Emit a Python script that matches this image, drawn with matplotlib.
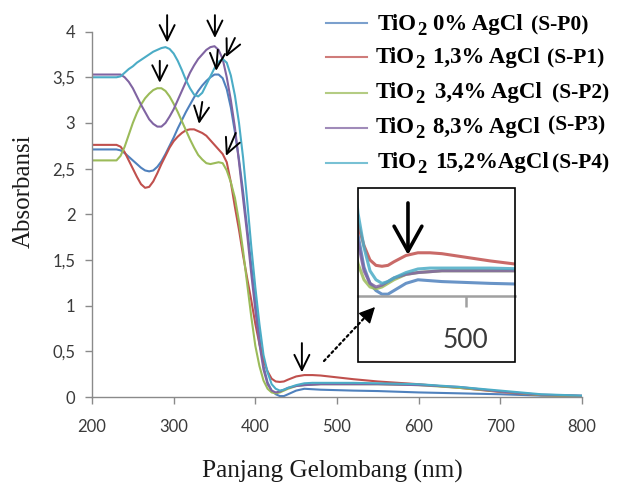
import matplotlib
matplotlib.use('Agg')
import matplotlib.pyplot as plt
from matplotlib.lines import Line2D
from matplotlib.patches import Rectangle

# ---------------- data ----------------
wavelength = [200, 225, 230, 235, 240, 245, 250, 255, 260, 265, 270, 275, 280, 285, 290,
              295, 300, 305, 310, 315, 320, 325, 330, 335, 340, 345, 350, 355, 360, 365,
              370, 375, 380, 385, 390, 395, 400, 405, 410, 415, 420, 425, 430, 435, 440,
              450, 460, 470, 480, 500, 520, 550, 600, 650, 700, 750, 800]

abs_p0 = [2.71, 2.71, 2.71, 2.70, 2.67, 2.63, 2.59, 2.55, 2.51, 2.48, 2.47, 2.48, 2.52, 2.58, 2.66,
          2.75, 2.84, 2.94, 3.03, 3.12, 3.20, 3.28, 3.35, 3.41, 3.46, 3.50, 3.53, 3.53, 3.49, 3.37,
          3.17, 2.90, 2.60, 2.25, 1.85, 1.45, 1.05, 0.66, 0.34, 0.16, 0.07, 0.03, 0.01, 0.01, 0.03,
          0.07, 0.09, 0.085, 0.08, 0.075, 0.07, 0.065, 0.05, 0.04, 0.03, 0.015, 0.01]

abs_p1 = [2.76, 2.76, 2.76, 2.74, 2.68, 2.59, 2.50, 2.41, 2.33, 2.29, 2.30, 2.36, 2.45, 2.55, 2.64,
          2.73, 2.80, 2.85, 2.89, 2.92, 2.93, 2.93, 2.91, 2.89, 2.86, 2.81, 2.76, 2.71, 2.66, 2.57,
          2.35, 2.08, 1.83, 1.55, 1.30, 1.06, 0.80, 0.58, 0.40, 0.28, 0.20, 0.17, 0.165, 0.17, 0.19,
          0.225, 0.24, 0.24, 0.235, 0.215, 0.195, 0.17, 0.14, 0.10, 0.055, 0.02, 0.01]

abs_p2 = [2.59, 2.59, 2.59, 2.64, 2.74, 2.87, 3.00, 3.11, 3.20, 3.27, 3.32, 3.36, 3.38, 3.38, 3.35,
          3.29, 3.21, 3.12, 3.02, 2.92, 2.82, 2.73, 2.65, 2.60, 2.56, 2.55, 2.56, 2.57, 2.56, 2.48,
          2.35, 2.18, 1.92, 1.60, 1.24, 0.88, 0.56, 0.34, 0.18, 0.09, 0.05, 0.04, 0.05, 0.07, 0.09,
          0.12, 0.13, 0.135, 0.14, 0.14, 0.14, 0.14, 0.13, 0.10, 0.06, 0.02, 0.01]

abs_p3 = [3.53, 3.53, 3.53, 3.53, 3.50, 3.45, 3.38, 3.29, 3.20, 3.12, 3.04, 2.99, 2.96, 2.96, 3.00,
          3.07, 3.15, 3.25, 3.35, 3.45, 3.55, 3.63, 3.70, 3.75, 3.80, 3.83, 3.84, 3.80, 3.70, 3.50,
          3.25, 2.95, 2.57, 2.17, 1.78, 1.35, 0.95, 0.58, 0.30, 0.14, 0.07, 0.05, 0.06, 0.08, 0.10,
          0.12, 0.13, 0.135, 0.14, 0.14, 0.14, 0.14, 0.13, 0.11, 0.06, 0.025, 0.015]

abs_p4 = [3.50, 3.50, 3.50, 3.51, 3.55, 3.59, 3.62, 3.66, 3.69, 3.72, 3.75, 3.78, 3.80, 3.82, 3.83,
          3.81, 3.76, 3.68, 3.58, 3.47, 3.38, 3.31, 3.29, 3.33, 3.42, 3.51, 3.60, 3.67, 3.70, 3.66,
          3.52, 3.30, 3.00, 2.62, 2.15, 1.65, 1.20, 0.80, 0.46, 0.27, 0.14, 0.09, 0.07, 0.08, 0.10,
          0.13, 0.15, 0.155, 0.155, 0.155, 0.155, 0.15, 0.14, 0.11, 0.07, 0.03, 0.015]

series_values = [abs_p0, abs_p1, abs_p2, abs_p3, abs_p4]
series_colors = ['#4F81BD', '#C0504D', '#9BBB59', '#8064A2', '#4BACC6']
legend_amounts = ['0% AgCl', '1,3% AgCl', '3,4% AgCl', '8,3% AgCl', '15,2%AgCl']
legend_codes = ['(S-P0)', '(S-P1)', '(S-P2)', '(S-P3)', '(S-P4)']

xticks = [200, 300, 400, 500, 600, 700, 800]
xtick_labels = ['200', '300', '400', '500', '600', '700', '800']
yticks = [0, 0.5, 1, 1.5, 2, 2.5, 3, 3.5, 4]
ytick_labels = ['0', '0,5', '1', '1,5', '2', '2,5', '3', '3,5', '4']

# peak markers (tail, tip) in data coordinates
peak_arrows = [((292, 4.18), (292, 3.88)),
               ((350.5, 4.18), (350.5, 3.93)),
               ((375, 3.93), (364, 3.72)),
               ((354, 3.80), (352, 3.57)),
               ((283, 3.68), (283, 3.44)),
               ((335, 3.23), (331, 2.99)),
               ((376, 2.89), (364, 2.64)),
               ((457, 0.59), (457, 0.27))]

# ---------------- figure ----------------
W, H = 618, 484
plt.rcParams['font.family'] = ['Lato', 'DejaVu Sans']
fig = plt.figure(figsize=(W / 100, H / 100), dpi=100)

def fx(px):
    return px / W

def fy(py):
    return 1 - py / H

ax = fig.add_axes([fx(92), fy(397), fx(582) - fx(92), fy(31.6) - fy(397)])
for vals, col in zip(series_values, series_colors):
    ax.plot(wavelength, vals, color=col, lw=1.5, solid_joinstyle='round')

ax.set_xlim(200, 800)
ax.set_ylim(0, 4)
ax.set_xticks(xticks)
ax.set_xticklabels(xtick_labels)
ax.set_yticks(yticks)
ax.set_yticklabels(ytick_labels)
for s in ['top', 'right']:
    ax.spines[s].set_visible(False)
for s in ['left', 'bottom']:
    ax.spines[s].set_color('#8a8a8a')
    ax.spines[s].set_linewidth(1.0)
ax.tick_params(axis='both', direction='out', length=5, width=1, color='#8a8a8a',
               labelcolor='#3a3a3a', labelsize=12)
ax.tick_params(axis='x', pad=10.5)
ax.tick_params(axis='y', pad=7)

for tail, tip in peak_arrows:
    ax.annotate('', xy=tip, xytext=tail, annotation_clip=False,
                arrowprops=dict(arrowstyle='->,head_length=0.55,head_width=0.27',
                                mutation_scale=20, lw=1.4, color='black',
                                shrinkA=0, shrinkB=0))

# axis titles
fig.text(fx(24), fy(191), 'Absorbansi', rotation=90, ha='center', va='center',
         family='Liberation Serif', fontsize=18, color='#1a1a1a')
fig.text(fx(332), fy(478), 'Panjang Gelombang (nm)', ha='center', va='baseline',
         family='Liberation Serif', fontsize=18.2, color='#1a1a1a')

# ---------------- legend (manual) ----------------
row_line_y = [23, 57, 93, 128, 163]
row_base_y = [30, 63, 98, 133, 168]
row_tio_x = [378, 376, 376, 376, 378]
row_amount_x = [433, 433, 435, 433, 435]
row_code_x = [531, 547, 552, 548, 552]
row_code_raise = [0, 0, 0, 3, 0]
serif_bold = dict(family='Liberation Serif', weight='bold', color='black')
for i in range(5):
    fig.add_artist(Line2D([fx(326), fx(367)], [fy(row_line_y[i])] * 2,
                          color=series_colors[i], lw=1.5, alpha=0.75))
    t1 = fig.text(fx(row_tio_x[i]), fy(row_base_y[i]), 'TiO', fontsize=16.5,
                  va='baseline', ha='left', **serif_bold)
    ax.annotate('2', xy=(1, 0), xycoords=t1, xytext=(0.5, -2.8),
                textcoords='offset points', ha='left', va='bottom',
                fontsize=13.5, annotation_clip=False, **serif_bold)
    fig.text(fx(row_amount_x[i]), fy(row_base_y[i]), legend_amounts[i], fontsize=16.5,
             va='baseline', ha='left', **serif_bold)
    fig.text(fx(row_code_x[i]), fy(row_base_y[i] - row_code_raise[i]), legend_codes[i],
             fontsize=15.5, va='baseline', ha='left', **serif_bold)

# ---------------- inset (zoom of the 450 nm region) ----------------
ins = fig.add_axes([fx(358), fy(362), fx(515) - fx(358), fy(188) - fy(362)])
for vals, col in zip(series_values, series_colors):
    ins.plot(wavelength, vals, color=col, lw=2.2, alpha=0.85)
ins.set_xlim(410, 541)
ins.set_ylim(-0.367, 0.6)
for s in ['top', 'right', 'left']:
    ins.spines[s].set_visible(False)
ins.spines['bottom'].set_position(('data', 0))
ins.spines['bottom'].set_color('#a0a0a0')
ins.spines['bottom'].set_linewidth(1.8)
ins.set_yticks([])
ins.set_xticks([500])
ins.set_xticklabels(['500'])
ins.tick_params(axis='x', direction='out', length=8, width=1.8, color='#a0a0a0',
                labelcolor='#3a3a3a', labelsize=19, pad=15)
ins.add_patch(Rectangle((0, 0), 1, 1, transform=ins.transAxes, fill=False,
                        ec='black', lw=1.2, clip_on=False, zorder=5))
ins.annotate('', xy=(451.7, 0.228), xytext=(451.7, 0.517),
             arrowprops=dict(arrowstyle='->,head_length=0.9,head_width=0.5',
                             mutation_scale=20, lw=2.6, color='black',
                             shrinkA=0, shrinkB=0))

# dotted pointer from the main peak to the inset (dotted shaft + solid head)
ins.annotate('', xy=(fx(369), fy(313)), xycoords='figure fraction',
             xytext=(fx(324), fy(361)), textcoords='figure fraction',
             annotation_clip=False,
             arrowprops=dict(arrowstyle='-', lw=1.6, linestyle=(0, (1, 1.5)),
                             color='black', shrinkA=0, shrinkB=0))
ins.annotate('', xy=(fx(375), fy(307)), xycoords='figure fraction',
             xytext=(fx(368), fy(314.5)), textcoords='figure fraction',
             annotation_clip=False,
             arrowprops=dict(arrowstyle='-|>,head_length=0.7,head_width=0.35',
                             mutation_scale=14, lw=1.0, color='black',
                             shrinkA=0, shrinkB=0))

fig.savefig('out.png', dpi=100)
